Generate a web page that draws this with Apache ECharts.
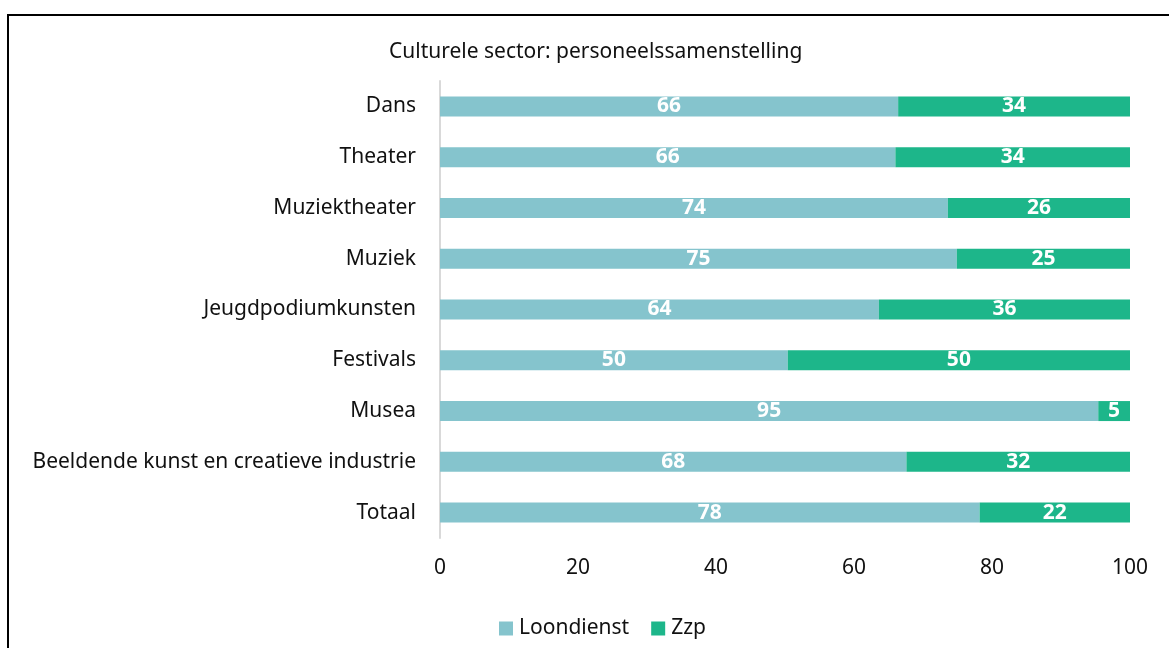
<!DOCTYPE html>
<html>
<head>
<meta charset="utf-8">
<script src="https://cdn.jsdelivr.net/npm/echarts@6/dist/echarts.min.js"></script>
<style>
  html, body { margin: 0; padding: 0; background: #fff; }
  #chart { width: 1169px; height: 648px; }
</style>
</head>
<body>
<div id="chart"></div>
<script>
// categorieen van boven naar onder
const categories = ['Dans', 'Theater', 'Muziektheater', 'Muziek', 'Jeugdpodiumkunsten',
  'Festivals', 'Musea', 'Beeldende kunst en creatieve industrie', 'Totaal']
const loondienst = [66.4, 66.0, 73.6, 74.9, 63.6, 50.4, 95.4, 67.6, 78.2]
const zzp = [33.6, 34.0, 26.4, 25.1, 36.4, 49.6, 4.6, 32.4, 21.8]
const seriesNames = ['Loondienst', 'Zzp']
const titleText = 'Culturele sector: personeelssamenstelling'

const font = 'Noto Sans'
const labelOpt = {
  show: true,
  position: 'inside',
  color: '#fff',
  fontWeight: 'bold',
  fontSize: 21,
  fontFamily: font,
  formatter: p => Math.round(p.value)
}

const chart = echarts.init(document.getElementById('chart'))
chart.setOption({
  animation: false,
  color: ['#85c4cd', '#1db68a'],
  title: {
    text: titleText,
    left: 384,
    top: 37,
    textStyle: { fontFamily: font, fontSize: 21, fontWeight: 'normal', color: '#111' }
  },
  graphic: [{
    type: 'rect',
    shape: { x: 8, y: 15, width: 1300, height: 800 },
    style: { fill: 'none', stroke: '#000', lineWidth: 2 },
    silent: true
  }],
  legend: {
    data: seriesNames,
    bottom: 4,
    left: 494,
    icon: 'rect',
    itemWidth: 14,
    itemHeight: 14,
    itemGap: 22,
    itemStyle: { borderWidth: 0 },
    textStyle: { fontFamily: font, fontSize: 21, color: '#111', padding: [0, 0, 0, 1] }
  },
  grid: { left: 440, right: 39, top: 81, bottom: 110, containLabel: false },
  xAxis: {
    type: 'value',
    min: 0,
    max: 100,
    interval: 20,
    axisLine: { show: false },
    axisTick: { show: false },
    splitLine: { show: false },
    axisLabel: { fontFamily: font, fontSize: 21, color: '#111', margin: 20 }
  },
  yAxis: {
    type: 'category',
    data: categories,
    inverse: true,
    axisLine: { show: true, lineStyle: { color: '#d9d9d9', width: 2 } },
    axisTick: { show: false },
    axisLabel: { fontFamily: font, fontSize: 21, color: '#111', margin: 24 }
  },
  series: [
    { name: seriesNames[0], type: 'bar', stack: 'tot', data: loondienst, barWidth: 20, label: labelOpt },
    { name: seriesNames[1], type: 'bar', stack: 'tot', data: zzp, barWidth: 20, label: labelOpt }
  ]
})
</script>
</body>
</html>
